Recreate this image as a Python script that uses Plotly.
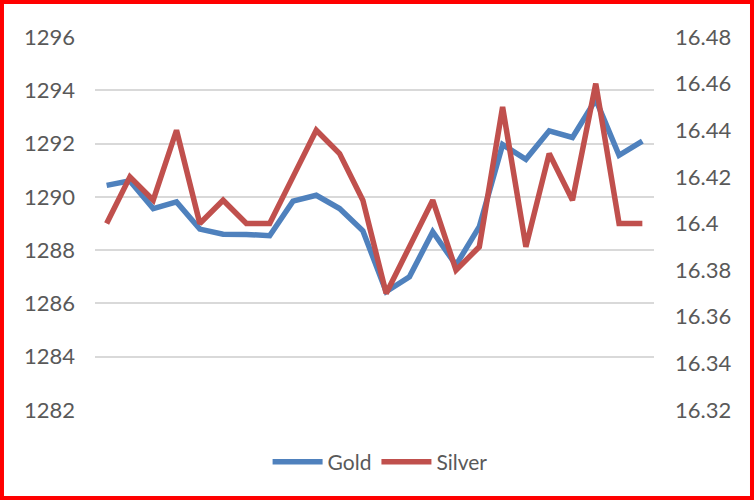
import plotly.graph_objects as go

days = [1, 2, 3, 4, 5, 6, 7, 8, 9, 10, 11, 12, 13, 14, 15, 16, 17, 18, 19, 20, 21, 22, 23, 24]
gold = [1290.43, 1290.6, 1289.56, 1289.81, 1288.79, 1288.6, 1288.59, 1288.54,
        1289.84, 1290.06, 1289.56, 1288.73, 1286.44, 1287.0, 1288.69, 1287.44,
        1288.88, 1291.96, 1291.41, 1292.48, 1292.23, 1293.65, 1291.56, 1292.09]
silver = [16.40, 16.42, 16.41, 16.44, 16.40, 16.41, 16.40, 16.40,
          16.42, 16.44, 16.43, 16.41, 16.37, 16.39, 16.41, 16.38,
          16.39, 16.45, 16.39, 16.43, 16.41, 16.46, 16.40, 16.40]

FONT = "Lato"
TXT = "#595959"

fig = go.Figure()
fig.add_trace(go.Scatter(x=days, y=gold, name="Gold", mode="lines",
                         line=dict(color="#4F81BD", width=5.5), yaxis="y"))
fig.add_trace(go.Scatter(x=days, y=silver, name="Silver", mode="lines",
                         line=dict(color="#C0504D", width=5.5), yaxis="y2"))

fig.update_layout(
    width=754, height=500,
    margin=dict(l=95, r=100, t=37, b=90),
    paper_bgcolor="white", plot_bgcolor="white",
    font=dict(family=FONT, size=22, color=TXT),
    showlegend=True,
    legend=dict(orientation="h", x=0.51, y=-0.14, xanchor="center", yanchor="middle",
                font=dict(family=FONT, size=21, color=TXT), itemwidth=50,
                tracegroupgap=0),
    xaxis=dict(range=[0.5, 24.5], showticklabels=False, showgrid=False,
               zeroline=False, showline=False, ticks=""),
    yaxis=dict(range=[1282, 1296], dtick=2, tick0=1282, showgrid=True,
               gridcolor="#D9D9D9", gridwidth=1.5, zeroline=False, showline=False,
               ticks="", ticklabelstandoff=19),
    yaxis2=dict(range=[16.32, 16.48], dtick=0.02, tick0=16.32, overlaying="y",
                side="right", showgrid=False, zeroline=False, showline=False,
                ticks="", ticklabelstandoff=20),
    shapes=[dict(type="rect", xref="paper", yref="paper",
                 x0=-0.1664, x1=1.1753, y0=-0.2359, y1=1.0938,
                 line=dict(color="#FF0000", width=4), fillcolor="rgba(0,0,0,0)",
                 layer="above")],
)

fig.write_html("out.html", config={"displayModeBar": False},
               post_script="document.body.style.margin='0';document.body.style.padding='0';")
